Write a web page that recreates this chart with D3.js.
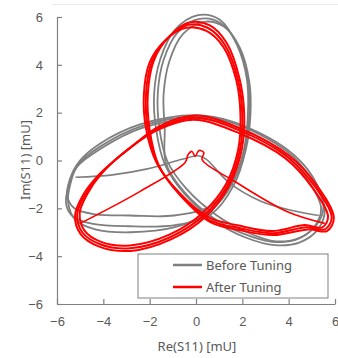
<!DOCTYPE html>
<html>
<head>
<meta charset="utf-8">
<script src="https://cdn.jsdelivr.net/npm/d3@7"></script>
<style>
	body { margin: 0; background: #fff; }
	svg { display: block; font-family: "Noto Sans", "Open Sans", sans-serif; }
	.axis path, .axis line { stroke: #808080; stroke-width: 1.2; }
	.axis text { fill: #595959; font-size: 13px; }
	.axis-title { fill: #595959; font-size: 13px; }
	.legend-item { fill: #595959; font-size: 13px; }
</style>
</head>
<body>
<svg id="chart"></svg>
<script>
// values, in mU (Re, Im)
const ticks = [-6, -4, -2, 0, 2, 4, 6];
const seriesNames = ["Before Tuning", "After Tuning"];

const beforePass1 = [[-0.04,1.83],[1.68,1.54],[3.92,0.38],[5.00,-0.79],[5.56,-2.04],[5.26,-2.88],[4.48,-3.42],[3.41,-3.54],[2.11,-3.21],[0.82,-2.54],[-0.47,-1.42],[-1.34,-0.17],[-1.72,1.29],[-1.81,2.75],[-1.55,4.21],[-0.91,5.46],[0.09,6.08],[1.03,5.88],[1.77,4.83],[2.20,3.38],[2.24,1.92],[2.07,0.46],[1.55,-1.00],[0.60,-2.13],[-0.91,-2.79],[-2.84,-3.00],[-4.35,-2.88],[-5.22,-2.46],[-5.52,-1.75],[-5.43,-1.00],[-5.09,-0.17],[-4.14,0.58],[-2.41,1.42]];
const beforePass2 = [[0.10,1.75],[1.80,1.40],[3.80,0.30],[4.85,-0.85],[5.40,-2.00],[5.10,-2.78],[4.35,-3.30],[3.30,-3.40],[2.02,-3.05],[0.75,-2.40],[-0.52,-1.30],[-1.30,-0.10],[-1.35,1.30],[-1.40,2.75],[-1.15,4.15],[-0.55,5.30],[0.35,5.80],[1.20,5.60],[1.90,4.70],[2.30,3.30],[2.35,1.90],[2.15,0.45],[1.62,-1.05],[0.65,-2.25],[-0.90,-2.70],[-2.90,-2.75],[-4.45,-2.65],[-5.30,-2.35],[-5.60,-1.85],[-5.50,-1.05],[-5.12,-0.25],[-4.10,0.50],[-2.35,1.35]];
const beforePass3 = [[-0.05,1.90],[1.60,1.62],[3.95,0.45],[5.05,-0.70],[5.50,-1.95],[5.20,-2.70],[4.50,-3.22],[3.45,-3.38],[2.20,-3.00],[0.90,-2.30],[-0.40,-1.20],[-1.25,0.00],[-1.58,1.35],[-1.65,2.80],[-1.40,4.20],[-0.80,5.35],[0.15,5.92],[1.10,5.72],[1.85,4.75],[2.25,3.35],[2.30,1.95],[2.12,0.50],[1.60,-0.85],[0.62,-1.90],[-0.95,-2.30],[-2.85,-2.30],[-4.35,-2.25],[-5.25,-2.00],[-5.55,-1.50],[-5.45,-0.80],[-5.05,-0.05],[-4.15,0.70],[-2.45,1.50]];
const beforeLead = [[-5.2,-0.7],[-3.6,-0.6],[-2.1,-0.35],[-0.6,0.05],[0.1,0.2],[0.45,0.05],[1.4,-0.9],[2.8,-1.7],[4.2,-2.1],[5.3,-2.3]];

const afterPass1 = [[-0.04,1.79],[1.90,1.25],[3.92,0.17],[5.13,-1.08],[5.86,-2.38],[5.56,-2.88],[4.78,-2.79],[3.32,-3.04],[1.90,-2.83],[0.60,-2.50],[-0.69,-1.42],[-1.64,-0.17],[-2.07,1.29],[-2.16,2.75],[-1.90,4.13],[-1.21,5.13],[-0.34,5.67],[0.52,5.54],[1.25,4.83],[1.81,3.38],[2.00,1.92],[1.90,0.46],[1.38,-1.00],[0.39,-2.25],[-1.12,-3.21],[-2.84,-3.67],[-4.14,-3.50],[-4.91,-3.00],[-5.13,-2.25],[-4.78,-1.42],[-4.14,-0.58],[-2.93,0.46],[-1.55,1.38]];
const afterPass2 = [[-0.10,1.70],[1.85,1.15],[3.85,0.10],[5.00,-1.10],[5.70,-2.35],[5.45,-2.80],[4.70,-2.70],[3.30,-2.95],[1.85,-2.72],[0.55,-2.38],[-0.72,-1.35],[-1.70,-0.10],[-2.15,1.30],[-2.25,2.75],[-2.00,4.10],[-1.30,5.05],[-0.42,5.55],[0.45,5.42],[1.18,4.75],[1.74,3.35],[1.92,1.90],[1.82,0.45],[1.30,-0.98],[0.30,-2.18],[-1.15,-3.10],[-2.85,-3.55],[-4.10,-3.40],[-4.82,-2.92],[-5.02,-2.20],[-4.68,-1.38],[-4.05,-0.52],[-2.90,0.50],[-1.55,1.32]];
const afterPass3 = [[0.00,1.88],[1.95,1.32],[4.00,0.22],[5.22,-1.05],[5.95,-2.40],[5.65,-2.95],[4.85,-2.88],[3.35,-3.12],[1.92,-2.92],[0.62,-2.58],[-0.66,-1.48],[-1.60,-0.22],[-2.00,1.28],[-2.08,2.78],[-1.82,4.18],[-1.12,5.22],[-0.26,5.78],[0.60,5.65],[1.32,4.92],[1.88,3.42],[2.08,1.95],[1.98,0.48],[1.45,-1.02],[0.45,-2.32],[-1.08,-3.30],[-2.82,-3.78],[-4.18,-3.60],[-4.98,-3.08],[-5.22,-2.30],[-4.88,-1.45],[-4.22,-0.62],[-2.98,0.42],[-1.55,1.45]];
const afterLead = [[-5.0,-2.63],[-2.41,-1.29],[-0.47,-0.08],[-0.34,0.25],[-0.17,0.38],[-0.04,0.17],[0.13,0.42],[0.34,0.33],[0.26,0.04],[1.68,-0.88],[3.92,-2.13],[5.56,-2.63]];

const colors = ["#7f7f7f", "#ff0000"];

const viewWidth = 338, viewHeight = 358;
const margin = { top: 17, right: 3, bottom: 54, left: 57 };
const width = viewWidth - margin.left - margin.right;
const height = viewHeight - margin.top - margin.bottom;

const svg = d3.select("#chart")
	.attr("width", viewWidth)
	.attr("height", viewHeight);

// faint frame line at the top of the figure
svg.append("line")
	.attr("x1", 52).attr("x2", viewWidth)
	.attr("y1", 4.5).attr("y2", 4.5)
	.attr("stroke", "#ececec");

const g = svg.append("g")
	.attr("transform", "translate(" + margin.left + "," + margin.top + ")");

const x = d3.scaleLinear().domain([-6, 6]).range([0, width]);
const y = d3.scaleLinear().domain([-6, 6]).range([height, 0]);

g.append("g")
	.attr("class", "axis")
	.attr("transform", "translate(0," + height + ")")
	.call(d3.axisBottom(x).tickValues(ticks).tickSizeInner(-5).tickSizeOuter(0).tickPadding(13));

g.append("g")
	.attr("class", "axis")
	.call(d3.axisLeft(y).tickValues(ticks).tickSizeInner(-5).tickSizeOuter(0).tickPadding(14));

const loop = d3.line()
	.x(d => x(d[0]))
	.y(d => y(d[1]))
	.curve(d3.curveCatmullRomClosed.alpha(0.5));

const open = d3.line()
	.x(d => x(d[0]))
	.y(d => y(d[1]))
	.curve(d3.curveCatmullRom.alpha(0.5));

[beforePass1, beforePass2, beforePass3].forEach(function (p) {
	g.append("path").datum(p)
		.attr("fill", "none").attr("stroke", colors[0]).attr("stroke-width", 1.8)
		.attr("d", loop);
});
g.append("path").datum(beforeLead)
	.attr("fill", "none").attr("stroke", colors[0]).attr("stroke-width", 1.6)
	.attr("d", open);

[afterPass1, afterPass2, afterPass3].forEach(function (p) {
	g.append("path").datum(p)
		.attr("fill", "none").attr("stroke", colors[1]).attr("stroke-width", 2)
		.attr("d", loop);
});
g.append("path").datum(afterLead)
	.attr("fill", "none").attr("stroke", colors[1]).attr("stroke-width", 1.6)
	.attr("d", open);

// legend
const legend = svg.append("g").attr("transform", "translate(138,254)");
legend.append("rect")
	.attr("width", 190).attr("height", 44)
	.attr("fill", "#fff").attr("stroke", "#808080").attr("stroke-width", 1);
seriesNames.forEach(function (name, i) {
	legend.append("line")
		.attr("x1", 35).attr("x2", 64)
		.attr("y1", 11 + i * 22).attr("y2", 11 + i * 22)
		.attr("stroke", colors[i]).attr("stroke-width", 2.5);
	legend.append("text")
		.attr("class", "legend-item")
		.attr("x", 68).attr("y", 11 + i * 22)
		.attr("dy", ".35em")
		.text(name);
});

svg.append("text")
	.attr("class", "axis-title")
	.attr("x", margin.left + width / 2 + 1)
	.attr("y", 351)
	.style("text-anchor", "middle")
	.text("Re(S11) [mU]");

svg.append("text")
	.attr("class", "axis-title")
	.attr("transform", "rotate(-90)")
	.attr("x", -160)
	.attr("y", 30)
	.style("text-anchor", "middle")
	.text("Im(S11) [mU]");
</script>
</body>
</html>
